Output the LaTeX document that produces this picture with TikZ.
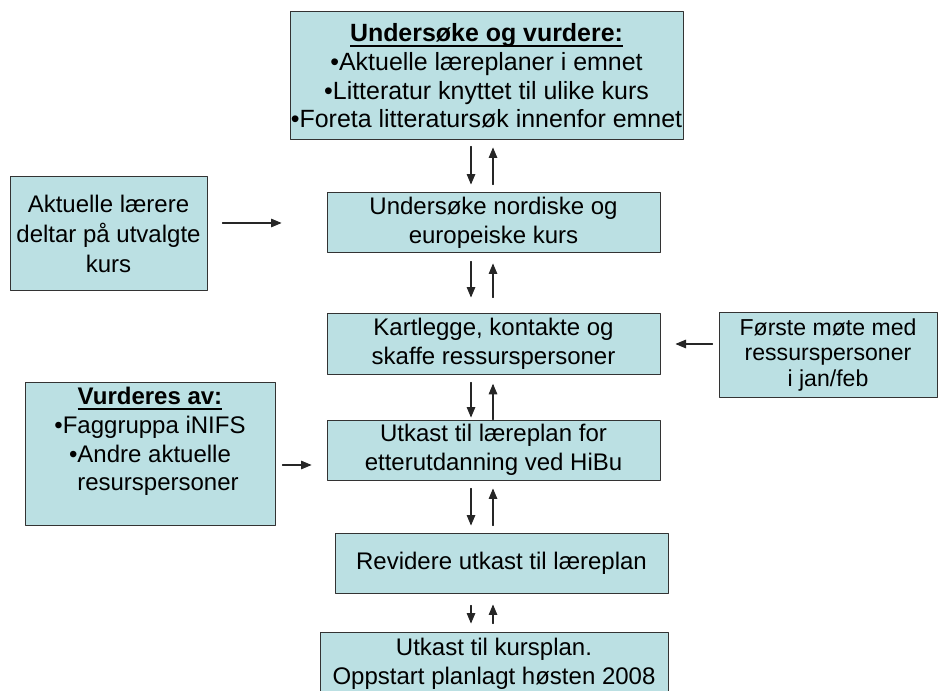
\documentclass[tikz,border=0pt]{standalone}
\usepackage{fontspec}
\setmainfont{Liberation Sans}
\usetikzlibrary{arrows}
\definecolor{boksfarge}{RGB}{187,224,227}
\newcommand{\strek}[1]{\setbox0\hbox{#1}\rlap{\rule[-3.6pt]{\wd0}{1.5pt}}\box0}

\begin{document}
\begin{tikzpicture}[line cap=round,line join=round,>=triangle 45,x=0.75pt,y=-0.75pt,
		boks/.style={draw=black!80,line width=0.75pt,fill=boksfarge,inner sep=0pt,align=center,font=\fontsize{18}{21.5}\selectfont},
		pil/.style={->,line width=0.8pt,color=black!85}]
		\useasboundingbox (0,0) rectangle (938,691);
		\node[boks,minimum width=294.75pt,minimum height=96pt,font=\fontsize{18.7}{21.4}\selectfont] (undersoke) at (486.5,76) {\strek{\textbf{Undersøke og vurdere:}}\\•Aktuelle læreplaner i emnet\\•Litteratur knyttet til ulike kurs\\•Foreta litteratursøk innenfor emnet};
		\node[boks,minimum width=249.75pt,minimum height=45pt] (nordisk) at (493.5,223) {Undersøke nordiske og\\europeiske kurs};
		\node[boks,minimum width=249.75pt,minimum height=45pt] (kartlegge) at (493.5,344) {Kartlegge, kontakte og\\skaffe ressurspersoner};
		\node[boks,minimum width=249.75pt,minimum height=45pt] (utkast) at (493.5,450) {Utkast til læreplan for\\etterutdanning ved HiBu};
		\node[boks,minimum width=249.75pt,minimum height=45pt] (revidere) at (501.5,563) {Revidere utkast til læreplan};
		\node[boks,minimum width=261pt,minimum height=48pt] (kursplan) at (494,664) {Utkast til kursplan.\\Oppstart planlagt høsten 2008};
		\node[boks,minimum width=147.75pt,minimum height=85.5pt,font=\fontsize{18}{22.5}\selectfont] (laerere) at (108.5,234) {Aktuelle lærere\\deltar på utvalgte\\kurs};
		\node[boks,minimum width=187.5pt,minimum height=107.25pt] (vurderes) at (150,453.5) {\strek{\textbf{Vurderes av:}}\\•Faggruppa iNIFS\\•Andre aktuelle\\\hspace*{12pt}resurspersoner\\\mbox{}};
		\node[boks,minimum width=163.5pt,minimum height=63pt,font=\fontsize{17.3}{19}\selectfont] (mote) at (828,355) {Første møte med\\ressurspersoner\\i jan/feb};
		\coordinate (ned) at (471,0);
		\coordinate (opp) at (493,0);
		\coordinate (innpil) at (0,465);
		\draw[pil,shorten <=4.5pt,shorten >=6pt] (undersoke.south -| ned) -- (nordisk.north -| ned);
		\draw[pil,shorten <=6pt,shorten >=5.25pt] (nordisk.north -| opp) -- (undersoke.south -| opp);
		\draw[pil,shorten <=6pt,shorten >=12pt] (nordisk.south -| ned) -- (kartlegge.north -| ned);
		\draw[pil,shorten <=12pt,shorten >=7.5pt] (kartlegge.north -| opp) -- (nordisk.south -| opp);
		\draw[pil,shorten <=6pt,shorten >=1.5pt] (kartlegge.south -| ned) -- (utkast.north -| ned);
		\draw[pil,shorten <=0pt,shorten >=7pt] (utkast.north -| opp) -- (kartlegge.south -| opp);
		\draw[pil,shorten <=6pt,shorten >=5.25pt] (utkast.south -| ned) -- (revidere.north -| ned);
		\draw[pil,shorten <=5.25pt,shorten >=6pt] (revidere.north -| opp) -- (utkast.south -| opp);
		\draw[pil,shorten <=9pt,shorten >=6pt] (revidere.south -| ned) -- (kursplan.north -| ned);
		\draw[pil,shorten <=6pt,shorten >=8.25pt] (kursplan.north -| opp) -- (revidere.south -| opp);
		\draw[pil,shorten <=11.25pt,shorten >=33.75pt] (laerere.east |- nordisk.west) -- (nordisk.west);
		\draw[pil,shorten <=5.25pt,shorten >=11.25pt] (vurderes.east |- innpil) -- (utkast.west |- innpil);
		\draw[pil,shorten <=4.5pt,shorten >=11.25pt] (mote.west |- kartlegge.east) -- (kartlegge.east);
	\end{tikzpicture}
\end{document}
